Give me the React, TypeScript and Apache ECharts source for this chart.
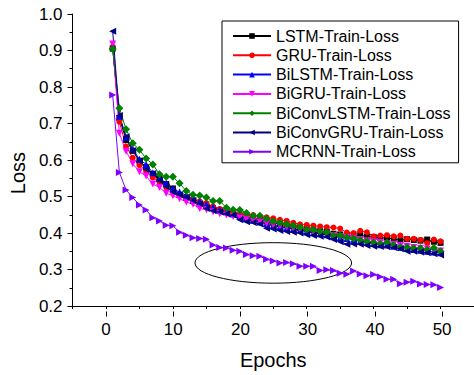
import React, { useEffect, useRef } from "react";
import * as echarts from "echarts";

const epochs = [1, 2, 3, 4, 5, 6, 7, 8, 9, 10, 11, 12, 13, 14, 15, 16, 17, 18, 19, 20, 21, 22, 23, 24, 25, 26, 27, 28, 29, 30, 31, 32, 33, 34, 35, 36, 37, 38, 39, 40, 41, 42, 43, 44, 45, 46, 47, 48, 49, 50];

const lstmLoss = [0.905, 0.715, 0.655, 0.625, 0.598, 0.580, 0.562, 0.548, 0.534, 0.522, 0.505, 0.497, 0.488, 0.479, 0.475, 0.468, 0.462, 0.457, 0.452, 0.448, 0.443, 0.440, 0.437, 0.432, 0.428, 0.424, 0.421, 0.418, 0.414, 0.411, 0.408, 0.405, 0.403, 0.398, 0.396, 0.394, 0.392, 0.394, 0.390, 0.389, 0.387, 0.386, 0.384, 0.380, 0.383, 0.381, 0.379, 0.382, 0.376, 0.373];
const gruLoss = [0.910, 0.705, 0.637, 0.606, 0.586, 0.570, 0.552, 0.540, 0.525, 0.515, 0.505, 0.498, 0.492, 0.487, 0.482, 0.472, 0.466, 0.461, 0.456, 0.452, 0.450, 0.449, 0.445, 0.443, 0.440, 0.436, 0.433, 0.428, 0.424, 0.422, 0.420, 0.418, 0.416, 0.415, 0.412, 0.401, 0.400, 0.406, 0.402, 0.391, 0.393, 0.394, 0.391, 0.393, 0.384, 0.384, 0.381, 0.372, 0.382, 0.377];
const bilstmLoss = [0.912, 0.720, 0.662, 0.630, 0.602, 0.588, 0.565, 0.550, 0.537, 0.522, 0.512, 0.503, 0.494, 0.486, 0.478, 0.471, 0.464, 0.458, 0.452, 0.446, 0.440, 0.435, 0.430, 0.426, 0.421, 0.418, 0.414, 0.411, 0.408, 0.405, 0.401, 0.398, 0.395, 0.391, 0.388, 0.385, 0.381, 0.378, 0.374, 0.371, 0.368, 0.367, 0.364, 0.360, 0.358, 0.355, 0.353, 0.350, 0.348, 0.346];
const bigruLoss = [0.918, 0.673, 0.624, 0.590, 0.568, 0.556, 0.534, 0.525, 0.509, 0.502, 0.494, 0.485, 0.479, 0.467, 0.464, 0.458, 0.453, 0.449, 0.445, 0.441, 0.437, 0.433, 0.430, 0.426, 0.422, 0.419, 0.416, 0.412, 0.409, 0.405, 0.402, 0.399, 0.396, 0.393, 0.390, 0.388, 0.385, 0.382, 0.379, 0.376, 0.374, 0.371, 0.369, 0.366, 0.363, 0.360, 0.358, 0.356, 0.353, 0.351];
const biconvlstmLoss = [0.904, 0.742, 0.684, 0.646, 0.628, 0.604, 0.588, 0.561, 0.554, 0.554, 0.536, 0.515, 0.505, 0.503, 0.497, 0.488, 0.488, 0.469, 0.464, 0.463, 0.455, 0.447, 0.447, 0.439, 0.432, 0.428, 0.424, 0.420, 0.416, 0.409, 0.409, 0.404, 0.402, 0.393, 0.393, 0.388, 0.385, 0.381, 0.377, 0.374, 0.370, 0.374, 0.367, 0.361, 0.361, 0.358, 0.358, 0.354, 0.359, 0.350];
const biconvgruLoss = [0.953, 0.722, 0.664, 0.626, 0.597, 0.574, 0.563, 0.543, 0.527, 0.512, 0.505, 0.498, 0.489, 0.480, 0.467, 0.461, 0.458, 0.453, 0.449, 0.436, 0.431, 0.429, 0.425, 0.413, 0.411, 0.407, 0.404, 0.402, 0.400, 0.395, 0.393, 0.391, 0.389, 0.382, 0.376, 0.369, 0.370, 0.369, 0.366, 0.364, 0.363, 0.362, 0.360, 0.357, 0.350, 0.350, 0.348, 0.346, 0.343, 0.340];
const mcrnnLoss = [0.778, 0.566, 0.518, 0.497, 0.477, 0.463, 0.442, 0.433, 0.421, 0.420, 0.402, 0.394, 0.387, 0.385, 0.383, 0.367, 0.360, 0.359, 0.353, 0.350, 0.341, 0.338, 0.336, 0.328, 0.323, 0.318, 0.319, 0.316, 0.309, 0.309, 0.309, 0.297, 0.299, 0.297, 0.290, 0.287, 0.296, 0.288, 0.283, 0.286, 0.280, 0.273, 0.273, 0.261, 0.265, 0.268, 0.260, 0.259, 0.258, 0.251];

const seriesNames = ["LSTM-Train-Loss", "GRU-Train-Loss", "BiLSTM-Train-Loss", "BiGRU-Train-Loss", "BiConvLSTM-Train-Loss", "BiConvGRU-Train-Loss", "MCRNN-Train-Loss"];
const seriesValues = [lstmLoss, gruLoss, bilstmLoss, bigruLoss, biconvlstmLoss, biconvgruLoss, mcrnnLoss];
const seriesColors = ["#000000", "#FF0000", "#0000FF", "#FF00FF", "#008000", "#000080", "#8000FF"];
const seriesSymbols = ["rect", "circle", "triangle", "triangle", "diamond", "triangle", "triangle"];
const symbolRotations = [0, 0, 0, 180, 0, 90, -90];
const symbolSizes = [6, 6, 7, 7, 8, 7, 7];

// axis ranges
const xFullRange = [-5, 55];
const xLabelRange = [0, 50];
const xMajorStep = 10;
const xMinorStep = 5;
const yRange = [0.2, 1.0];
const yStep = 0.1;

// ellipse annotation: center [epoch, loss] and radii in data units
const ellipseCenter = [25, 0.318];
const ellipseRadii = [11.7, 0.0555];

const FONT = "Arial, 'Liberation Sans', sans-serif";

const PLOT_LEFT = 72.5;
const PLOT_TOP = 14;
const PX_PER_EPOCH = 6.72;
const PLOT_HEIGHT = 297.5;

export default function App() {
  const ref = useRef<HTMLDivElement>(null);
  useEffect(() => {
    if (!ref.current) return;
    const chart = echarts.init(ref.current, undefined, { renderer: "svg" });
    const lineSeries = seriesNames.map((name, i) => ({
      name,
      type: "line",
      xAxisIndex: 0,
      yAxisIndex: 0,
      data: epochs.map((e, j) => [e, seriesValues[i][j]]),
      symbol: seriesSymbols[i],
      symbolRotate: symbolRotations[i],
      symbolSize: symbolSizes[i],
      showAllSymbol: true,
      lineStyle: { color: seriesColors[i], width: 1 },
      itemStyle: { color: seriesColors[i], borderWidth: 0 },
      emphasis: { disabled: true },
    }));
    const ellipseSeries = {
      type: "custom",
      name: "ellipse",
      xAxisIndex: 0,
      yAxisIndex: 0,
      silent: true,
      z: 1,
      data: [ellipseCenter],
      renderItem: (params: any, api: any) => {
        const c = api.coord([api.value(0), api.value(1)]);
        const s = api.size(ellipseRadii);
        return {
          type: "ellipse",
          shape: { cx: c[0], cy: c[1], rx: s[0], ry: s[1] },
          style: { fill: "none", stroke: "#000", lineWidth: 1 },
        };
      },
    };
    const fullWidth = (xFullRange[1] - xFullRange[0]) * PX_PER_EPOCH;
    const labelLeft = PLOT_LEFT + (xLabelRange[0] - xFullRange[0]) * PX_PER_EPOCH;
    const labelWidth = (xLabelRange[1] - xLabelRange[0]) * PX_PER_EPOCH;
    chart.setOption({
      animation: false,
      grid: [
        { left: PLOT_LEFT, top: PLOT_TOP, width: fullWidth, height: PLOT_HEIGHT, containLabel: false },
        { left: labelLeft, top: PLOT_TOP, width: labelWidth, height: PLOT_HEIGHT, containLabel: false },
      ],
      legend: {
        orient: "vertical",
        left: 222,
        top: 21,
        itemWidth: 38,
        itemHeight: 7,
        itemGap: 3.3,
        padding: [7, 8, 3, 10],
        borderColor: "#000",
        borderWidth: 1,
        textStyle: { fontSize: 16, fontFamily: FONT, color: "#000", lineHeight: 16 },
        data: seriesNames,
      },
      xAxis: [
        {
          gridIndex: 0,
          type: "value",
          min: xFullRange[0],
          max: xFullRange[1],
          interval: xMinorStep,
          name: "Epochs",
          nameLocation: "middle",
          nameGap: 44,
          nameTextStyle: { fontSize: 20, fontFamily: FONT, color: "#000" },
          axisLine: { show: true, onZero: false, lineStyle: { color: "#000", width: 1 } },
          axisTick: { show: true, inside: false, length: 3, lineStyle: { color: "#000" } },
          axisLabel: { show: false },
          splitLine: { show: false },
        },
        {
          gridIndex: 1,
          type: "value",
          min: xLabelRange[0],
          max: xLabelRange[1],
          interval: xMajorStep,
          position: "bottom",
          axisLine: { show: false, onZero: false },
          axisTick: { show: true, inside: false, length: 5, lineStyle: { color: "#000" } },
          axisLabel: { fontSize: 17, fontFamily: FONT, color: "#000", margin: 9 },
          splitLine: { show: false },
        },
      ],
      yAxis: [
        {
          gridIndex: 0,
          type: "value",
          min: yRange[0],
          max: yRange[1],
          interval: yStep,
          name: "Loss",
          nameLocation: "middle",
          nameGap: 44,
          nameRotate: 90,
          nameTextStyle: { fontSize: 20, fontFamily: FONT, color: "#000", padding: [0, 26, 0, 0] },
          axisLine: { show: true, onZero: false, lineStyle: { color: "#000", width: 1 } },
          axisTick: { show: true, inside: false, length: 5, lineStyle: { color: "#000" } },
          minorTick: { show: true, splitNumber: 2, length: 3, lineStyle: { color: "#000" } },
          axisLabel: {
            fontSize: 17,
            fontFamily: FONT,
            color: "#000",
            margin: 10,
            formatter: (v: number) => v.toFixed(1),
          },
          splitLine: { show: false },
          minorSplitLine: { show: false },
        },
        {
          gridIndex: 1,
          type: "value",
          min: yRange[0],
          max: yRange[1],
          show: false,
        },
      ],
      series: [ellipseSeries, ...lineSeries],
    });
    return () => chart.dispose();
  }, []);
  return (
    <div
      ref={ref}
      style={{ position: "absolute", left: 0, top: 0, width: 474, height: 375, background: "#fff" }}
    />
  );
}
